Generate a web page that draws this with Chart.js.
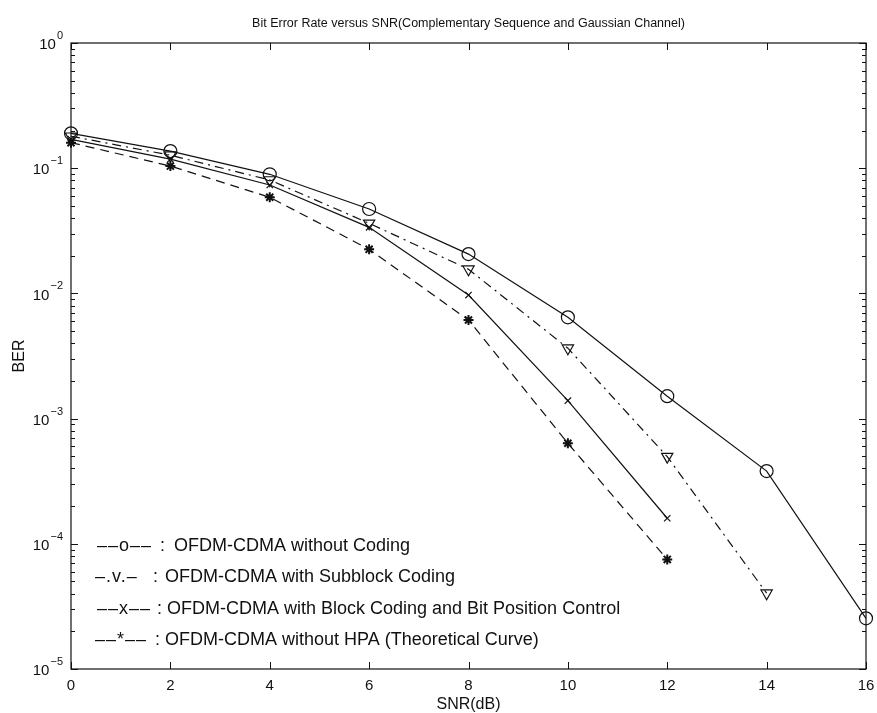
<!DOCTYPE html>
<html>
<head>
<meta charset="utf-8">
<script src="https://cdn.jsdelivr.net/npm/chart.js@4/dist/chart.umd.min.js"></script>
<style>
  html, body { margin: 0; padding: 0; background: #fff; }
  #wrap { width: 877px; height: 713px; position: relative; }
</style>
</head>
<body>
<div id="wrap"><canvas id="c" width="877" height="713"></canvas></div>
<script>
// SNR points (dB)
const snrDb = [0, 2, 4, 6, 8, 10, 12, 14, 16];

// BER curves
const berNoCoding   = [0.19, 0.137, 0.0894, 0.0472, 0.0206, 0.00644, 0.00151, 0.000381, 0.0000254];
const berSubblock   = [0.18, 0.127, 0.0805, 0.0363, 0.0156, 0.00365, 0.000497, 0.0000403];
const berBlockBPC   = [0.17, 0.118, 0.0734, 0.0337, 0.0097, 0.00139, 0.00016];
const berTheory     = [0.16, 0.104, 0.0586, 0.0225, 0.00613, 0.000635, 0.000075];

// Axis ticks
const xTickValues    = [0, 2, 4, 6, 8, 10, 12, 14, 16];
const yTickExponents = [0, -1, -2, -3, -4, -5];

// Text legend written inside the axes
const legendMarks = ['\u2013\u2013o\u2013\u2013', '\u2013.v.\u2013', '\u2013\u2013x\u2013\u2013', '\u2013\u2013*\u2013\u2013'];
const legendTexts = [
  'OFDM-CDMA without Coding',
  'OFDM-CDMA with Subblock Coding',
  'OFDM-CDMA with Block Coding and Bit Position Control',
  'OFDM-CDMA without HPA (Theoretical Curve)'
];

const titleText = 'Bit Error Rate versus SNR(Complementary Sequence and Gaussian Channel)';
const xTitle = 'SNR(dB)';
const yTitle = 'BER';

const FONT = '"Liberation Sans", Arial, Helvetica, sans-serif';
const INK = '#111';

function pts(ys) { return ys.map((y, i) => ({ x: snrDb[i], y: y })); }

const base = {
  borderColor: INK,
  pointBorderColor: INK,
  pointBackgroundColor: 'rgba(0,0,0,0)',
  borderWidth: 1.2,
  pointBorderWidth: 1.2,
  fill: false,
  tension: 0,
  clip: false
};

// Frame, inward ticks and all axis text, MATLAB style
const axesDecor = {
  id: 'axesDecor',
  afterDraw(chart) {
    const ctx = chart.ctx;
    const a = chart.chartArea;
    const xs = chart.scales.x, ys = chart.scales.y;
    ctx.save();
    ctx.strokeStyle = INK;
    ctx.fillStyle = INK;
    ctx.lineWidth = 1.2;
    ctx.strokeRect(a.left, a.top, a.right - a.left, a.bottom - a.top);

    ctx.lineWidth = 1;
    ctx.beginPath();
    // x ticks, bottom and top
    xTickValues.forEach(v => {
      const px = Math.round(xs.getPixelForValue(v)) + 0.5;
      ctx.moveTo(px, a.bottom); ctx.lineTo(px, a.bottom - 7);
      ctx.moveTo(px, a.top); ctx.lineTo(px, a.top + 7);
    });
    // y ticks, major and minor, left and right
    for (let e = -5; e <= 0; e++) {
      for (let m = 1; m <= 9; m++) {
        const v = m * Math.pow(10, e);
        const py = Math.round(ys.getPixelForValue(v)) + 0.5;
        const len = m === 1 ? 7 : 4;
        ctx.moveTo(a.left, py); ctx.lineTo(a.left + len, py);
        ctx.moveTo(a.right, py); ctx.lineTo(a.right - len, py);
        if (e === 0) break;
      }
    }
    ctx.stroke();

    // x tick labels
    ctx.font = '15px ' + FONT;
    ctx.textAlign = 'center';
    ctx.textBaseline = 'middle';
    xTickValues.forEach(v => {
      ctx.fillText(String(v), xs.getPixelForValue(v), a.bottom + 17);
    });

    // y tick labels as 10 with superscript exponent
    yTickExponents.forEach(e => {
      const py = ys.getPixelForValue(Math.pow(10, e));
      const exp = e === 0 ? '0' : '\u2212' + String(-e);
      ctx.font = '11px ' + FONT;
      const ew = ctx.measureText(exp).width;
      const right = 63;
      ctx.textAlign = 'right';
      ctx.fillText(exp, right, py - 7);
      ctx.font = '15px ' + FONT;
      ctx.fillText('10', right - ew - 1, py + 2);
    });

    // title and axis titles
    ctx.textAlign = 'center';
    ctx.font = '12.5px ' + FONT;
    ctx.fillText(titleText, (a.left + a.right) / 2, 24);
    ctx.font = '16px ' + FONT;
    ctx.fillText(xTitle, (a.left + a.right) / 2, 705);
    ctx.save();
    ctx.translate(20, (a.top + a.bottom) / 2);
    ctx.rotate(-Math.PI / 2);
    ctx.fillText(yTitle, 0, 0);
    ctx.restore();

    // legend text
    const rows = [546, 577, 609, 640];
    const markX = [97, 95, 97, 95];
    const colonX = [160, 153, 157, 155];
    const textX = [174, 165, 167, 165];
    ctx.textAlign = 'left';
    ctx.font = '18px ' + FONT;
    legendTexts.forEach((t, i) => {
      ctx.letterSpacing = '1px';
      ctx.fillText(legendMarks[i], markX[i], rows[i]);
      ctx.letterSpacing = '0px';
      ctx.fillText(':', colonX[i], rows[i]);
      ctx.fillText(t, textX[i], rows[i]);
    });
    ctx.restore();
  }
};

new Chart(document.getElementById('c'), {
  type: 'line',
  data: {
    datasets: [
      Object.assign({}, base, {
        label: legendTexts[0],
        data: pts(berNoCoding),
        pointStyle: 'circle', pointRadius: 6.5
      }),
      Object.assign({}, base, {
        label: legendTexts[1],
        data: pts(berSubblock),
        borderDash: [9, 5, 2, 5],
        pointStyle: 'triangle', pointRotation: 180, pointRadius: 6.5
      }),
      Object.assign({}, base, {
        label: legendTexts[2],
        data: pts(berBlockBPC),
        pointStyle: 'crossRot', pointRadius: 4.5
      }),
      Object.assign({}, base, {
        label: legendTexts[3],
        data: pts(berTheory),
        borderDash: [9, 6],
        pointStyle: 'star', pointRadius: 5, pointBorderWidth: 2
      })
    ]
  },
  options: {
    responsive: false,
    animation: false,
    devicePixelRatio: 1,
    layout: { padding: { left: 71, right: 11, top: 43, bottom: 44 } },
    plugins: { legend: { display: false }, title: { display: false }, tooltip: { enabled: false } },
    scales: {
      x: {
        type: 'linear', min: 0, max: 16,
        grid: { display: false, drawTicks: false },
        border: { display: false },
        ticks: { display: false }
      },
      y: {
        type: 'logarithmic', min: 1e-5, max: 1,
        grid: { display: false, drawTicks: false },
        border: { display: false },
        ticks: { display: false }
      }
    }
  },
  plugins: [axesDecor]
});
</script>
</body>
</html>
